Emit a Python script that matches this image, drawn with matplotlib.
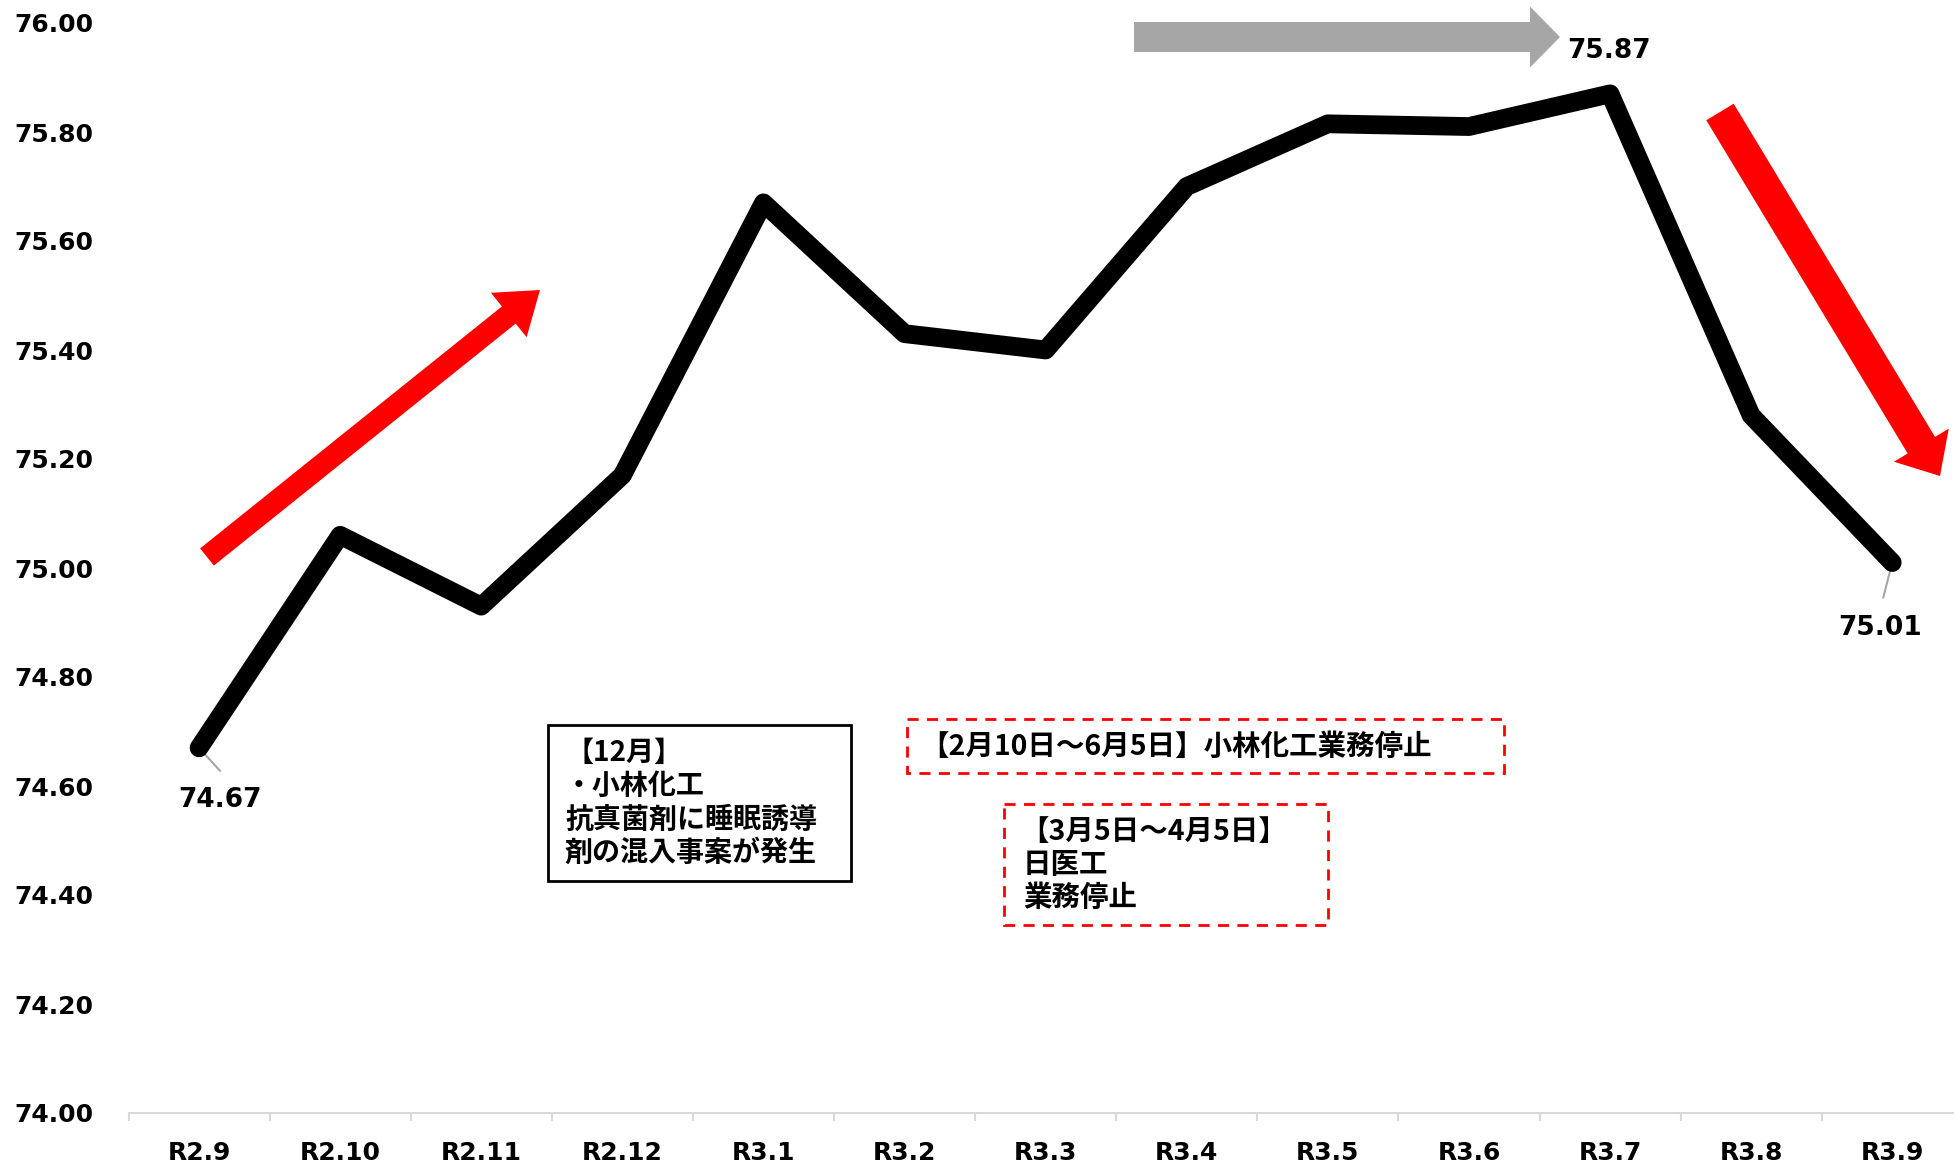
import matplotlib
matplotlib.use("Agg")
import matplotlib.pyplot as plt
from matplotlib.patches import FancyArrow, Rectangle
from matplotlib.ticker import FixedLocator

# ---- data ----
categories = ["R2.9", "R2.10", "R2.11", "R2.12", "R3.1", "R3.2", "R3.3",
              "R3.4", "R3.5", "R3.6", "R3.7", "R3.8", "R3.9"]
values = [74.67, 75.06, 74.93, 75.17, 75.67, 75.43, 75.40,
          75.70, 75.815, 75.81, 75.87, 75.28, 75.01]
y_ticks = [74.00, 74.20, 74.40, 74.60, 74.80, 75.00, 75.20, 75.40,
           75.60, 75.80, 76.00]
labeled_idx = [0, 10, 12]

box1_lines = ["【12月】", "・小林化工", "抗真菌剤に睡眠誘導", "剤の混入事案が発生"]
box2_text = "【2月10日～6月5日】小林化工業務停止"
box3_lines = ["【3月5日～4月5日】", "日医工", "業務停止"]

W, H = 1954, 1164
fig = plt.figure(figsize=(W / 100, H / 100), dpi=100)
fig.patch.set_facecolor("white")

left = 128.5 / W
bottom = (H - 1113) / H
top = (H - 23) / H
width = 141.1 * 13 / W
ax = fig.add_axes([left, bottom, width, top - bottom])

x = list(range(len(categories)))
ax.plot(x, values, color="black", linewidth=13.5,
        solid_joinstyle="round", solid_capstyle="round", zorder=3)

ax.set_xlim(-0.5, len(categories) - 0.5)
ax.set_ylim(74.0, 76.0)
ax.set_yticks(y_ticks)
ax.set_yticklabels([f"{v:.2f}" for v in y_ticks])
ax.set_xticks(x)
ax.set_xticklabels(categories)
ax.xaxis.set_minor_locator(FixedLocator([i - 0.5 for i in range(len(categories) + 1)]))

for s in ["top", "right", "left"]:
    ax.spines[s].set_visible(False)
ax.spines["bottom"].set_color("#d9d9d9")
ax.spines["bottom"].set_linewidth(1.5)

ax.tick_params(axis="y", length=0, pad=25, labelsize=18)
ax.tick_params(axis="x", which="major", length=0, pad=20, labelsize=18)
ax.tick_params(axis="x", which="minor", length=6, width=1.5, color="#d9d9d9")
for lab in ax.get_yticklabels() + ax.get_xticklabels():
    lab.set_fontweight("bold")
    lab.set_fontfamily("DejaVu Sans")

# data labels with leader lines
label_offsets = {0: (21, -52), 10: (-1, 43), 12: (-12, -65)}
leader_offsets = {0: (21, -23), 12: (-9, -35)}
for i in labeled_idx:
    v = values[i]
    ax.annotate(f"{v:.2f}", xy=(i, v), xytext=label_offsets[i],
                textcoords="offset pixels", ha="center", va="center",
                fontsize=19, fontweight="bold", family="DejaVu Sans", zorder=5)
    if i in leader_offsets:
        ax.annotate("", xy=(i, v), xytext=leader_offsets[i],
                    textcoords="offset pixels",
                    arrowprops=dict(arrowstyle="-", color="#a6a6a6", lw=1.5,
                                    shrinkA=0, shrinkB=0), zorder=2)

# ---- overlay in pixel coordinates for decorative shapes ----
ov = fig.add_axes([0, 0, 1, 1], zorder=5)
ov.set_xlim(0, W)
ov.set_ylim(H, 0)
ov.axis("off")
ov.patch.set_alpha(0)

def arrow(x0, y0, x1, y1, w, hw, hl, color):
    ov.add_patch(FancyArrow(x0, y0, x1 - x0, y1 - y0, width=w, head_width=hw,
                            head_length=hl, length_includes_head=True,
                            color=color, linewidth=0))

arrow(207, 557, 540, 290, 22, 57, 40, "#ff0000")
arrow(1720, 112, 1940, 476, 32, 64, 36, "#ff0000")
arrow(1134, 37, 1560, 37, 30, 61, 30, "#a6a6a6")

jp = ["Noto Sans CJK JP", "DejaVu Sans"]

# box 1
ov.add_patch(Rectangle((548, 725), 303, 156, fill=False, edgecolor="black",
                       linewidth=2))
for t, yy in zip(box1_lines, [753, 786, 820, 853]):
    ov.text(565, yy, t, ha="left", va="center", fontsize=20.2,
            fontweight="bold", family=jp)

# box 2
ov.add_patch(Rectangle((907, 719), 597, 54, fill=False, edgecolor="#ff0000",
                       linewidth=2, linestyle=(0, (4, 3))))
ov.text(920, 747, box2_text, ha="left", va="center", fontsize=20.5,
        fontweight="bold", family=jp)

# box 3
ov.add_patch(Rectangle((1004, 804), 324, 121, fill=False, edgecolor="#ff0000",
                       linewidth=2, linestyle=(0, (4, 3))))
for t, yy in zip(box3_lines, [832, 865, 898]):
    ov.text(1020 if t.startswith("【") else 1023, yy, t, ha="left",
            va="center", fontsize=20.5, fontweight="bold", family=jp)

fig.savefig("out.png", dpi=100)
